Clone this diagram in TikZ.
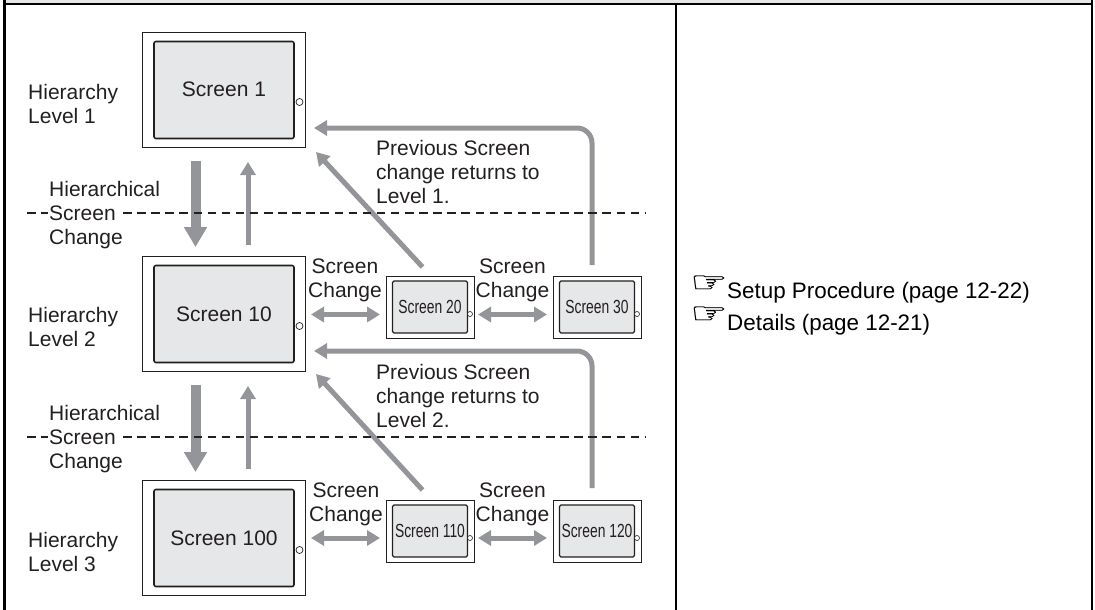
\documentclass[tikz,border=0pt]{standalone}
\usepackage{fontspec}
\setmainfont{Liberation Sans}
\newfontfamily\condfont[FakeStretch=0.73]{Liberation Sans}
\newfontfamily\handfont[FakeStretch=1.45,FakeBold=0.5]{DejaVu Sans}
\usetikzlibrary{positioning,arrows.meta}
\definecolor{screengray}{HTML}{E6E7E8}
\definecolor{arrowgray}{HTML}{939598}
\definecolor{inkgray}{HTML}{231F20}
\tikzset{
    bigscreen/.style={draw=inkgray, rectangle, line width=1.6pt, outer sep=0pt, inner sep=0pt, minimum width=163pt, minimum height=115pt},
    bigpanel/.style={draw=inkgray, fill=screengray, rectangle, rounded corners=2pt, line width=1.6pt, inner sep=0pt, minimum width=140pt, minimum height=97pt, text=inkgray, font=\fontsize{21}{24}\selectfont},
    bigled/.style={draw=inkgray, fill=white, circle, line width=0.7pt, inner sep=0pt, minimum size=7pt},
    smallscreen/.style={draw=inkgray, rectangle, line width=1pt, outer sep=0pt, inner sep=0pt, minimum width=88pt, minimum height=62pt},
    smallpanel/.style={draw=inkgray, fill=screengray, rectangle, rounded corners=1.5pt, line width=1.1pt, inner sep=0pt, minimum width=75pt, minimum height=52pt, text=inkgray, font=\condfont\fontsize{19}{22}\selectfont},
    smallled/.style={draw=inkgray, fill=white, circle, line width=0.6pt, inner sep=0pt, minimum size=5pt},
    caption/.style={text=inkgray, inner sep=0pt, align=left, font=\fontsize{21}{24}\selectfont},
    fatarrow/.style={draw=arrowgray, line width=10pt, -{Triangle[width=22pt,length=20pt]}},
    thinarrow/.style={draw=arrowgray, line width=5pt, -{Triangle[width=15pt,length=13pt]}},
    botharrow/.style={draw=arrowgray, line width=5pt, {Triangle[width=15pt,length=13pt]}-{Triangle[width=15pt,length=13pt]}},
    levelline/.style={draw=inkgray, line width=2pt, dash pattern=on 8.5pt off 5.6pt},
    frameline/.style={draw=black, line width=2.2pt}
}
\begin{document}
\begin{tikzpicture}[x=1pt, y=-1pt]
    \useasboundingbox (0,0) rectangle (1095,610);

    % table frame
    \fill[screengray] (5,0) rectangle (1091,3.5);
    \coordinate (frameNW) at (4.4,0);
    \coordinate (frameSW) at (4.4,610);
    \coordinate (frameNE) at (1092,0);
    \coordinate (frameSE) at (1092,610);
    \coordinate (frameDN) at (676,4);
    \coordinate (frameDS) at (676,610);
    \draw[frameline] (frameNW) -- (frameSW);
    \draw[frameline] (frameNE) -- (frameSE);
    \draw[frameline] (frameDN) -- (frameDS);
    \draw[frameline] (4.4,4.2) -- (1092,4.2);

    % left column screens
    \node [bigscreen] (Scr1) at (224,90) {};
    \node [bigscreen, below=109pt of Scr1] (Scr10) {};
    \node [bigscreen, below=109pt of Scr10] (Scr100) {};
    \node [bigpanel] (Panel1) at (Scr1.center) {\raisebox{1.5pt}{Screen 1}};
    \node [bigpanel] (Panel10) at (Scr10.center) {Screen 10};
    \node [bigpanel] (Panel100) at (Scr100.center) {Screen 100};
    \node [bigled] (Led1) at ([shift={(75.5pt,-12pt)}]Scr1.center) {};
    \node [bigled] (Led10) at ([shift={(75.5pt,-12pt)}]Scr10.center) {};
    \node [bigled] (Led100) at ([shift={(75.5pt,-12pt)}]Scr100.center) {};

    % small screens
    \node [smallscreen, right=80.5pt of Scr10, yshift=7pt] (Scr20) {};
    \node [smallscreen, right=79pt of Scr20] (Scr30) {};
    \node [smallscreen, right=80.5pt of Scr100, yshift=7pt] (Scr110) {};
    \node [smallscreen, right=79pt of Scr110] (Scr120) {};
    \node [smallpanel] (Panel20) at (Scr20.center) {Screen 20};
    \node [smallpanel] (Panel30) at (Scr30.center) {Screen 30};
    \node [smallpanel] (Panel110) at (Scr110.center) {Screen 110};
    \node [smallpanel] (Panel120) at (Scr120.center) {Screen 120};
    \node [smallled] (Led20) at ([shift={(40pt,-7pt)}]Scr20.center) {};
    \node [smallled] (Led30) at ([shift={(40pt,-7pt)}]Scr30.center) {};
    \node [smallled] (Led110) at ([shift={(40pt,-7pt)}]Scr110.center) {};
    \node [smallled] (Led120) at ([shift={(40pt,-7pt)}]Scr120.center) {};

    % vertical changes
    \draw[fatarrow] ([shift={(-28.5pt,-13.5pt)}]Scr1.south) -- ([shift={(-28.5pt,9.5pt)}]Scr10.north);
    \draw[thinarrow] ([shift={(24pt,11.5pt)}]Scr10.north) -- ([shift={(24pt,-14.5pt)}]Scr1.south);
    \draw[fatarrow] ([shift={(-28.5pt,-13.5pt)}]Scr10.south) -- ([shift={(-28.5pt,8.5pt)}]Scr100.north);
    \draw[thinarrow] ([shift={(24pt,11.5pt)}]Scr100.north) -- ([shift={(24pt,-14.5pt)}]Scr10.south);

    % previous screen returns
    \draw[thinarrow] ([shift={(-7.5pt,9pt)}]Scr20.north) -- ([shift={(10.5pt,-4.5pt)}]Scr1.south east);
    \draw[thinarrow] ([shift={(-7.5pt,10pt)}]Scr110.north) -- ([shift={(10.5pt,-2.5pt)}]Scr10.south east);
    \draw[thinarrow, rounded corners=15pt] ([shift={(-5pt,11pt)}]Scr30.north) |- ([shift={(8.5pt,-38pt)}]Scr1.east);
    \draw[thinarrow, rounded corners=15pt] ([shift={(-5pt,12pt)}]Scr120.north) |- ([shift={(8.5pt,-37pt)}]Scr10.east);

    % sideways changes
    \draw[botharrow] ([shift={(5.5pt,-0.5pt)}]Scr10.east) -- ([shift={(-6pt,-7.5pt)}]Scr20.west);
    \draw[botharrow] ([shift={(4pt,-7.5pt)}]Scr20.east) -- ([shift={(-6pt,-7.5pt)}]Scr30.west);
    \draw[botharrow] ([shift={(5.5pt,0pt)}]Scr100.east) -- ([shift={(-6pt,-7pt)}]Scr110.west);
    \draw[botharrow] ([shift={(4pt,-7pt)}]Scr110.east) -- ([shift={(-6pt,-7pt)}]Scr120.west);

    % level boundaries
    \coordinate (LineA) at (27,213);
    \coordinate (LineB) at (48,213);
    \coordinate (LineC) at (123,213);
    \coordinate (LineD) at (645,213);
    \coordinate (LineE) at (27,437);
    \coordinate (LineF) at (48,437);
    \coordinate (LineG) at (123,437);
    \coordinate (LineH) at (645,437);
    \draw[levelline] (LineA) -- (LineB);
    \draw[levelline] (LineC) -- (LineD);
    \draw[levelline] (LineE) -- (LineF);
    \draw[levelline] (LineG) -- (LineH);

    % captions
    \node [caption, anchor=base west] (Level1) at (28,123) {Hierarchy\\Level 1};
    \node [caption, anchor=base west] (Level2) at (28,346) {Hierarchy\\Level 2};
    \node [caption, anchor=base west] (Level3) at (28,571) {Hierarchy\\Level 3};
    \node [caption, anchor=base west] (HierA) at (49,244) {Hierarchical\\Screen\\Change};
    \node [caption, anchor=base west] (HierB) at (49,468) {Hierarchical\\Screen\\Change};
    \node [caption, anchor=base west] (PrevA) at (376,203) {Previous Screen\\change returns to\\Level 1.};
    \node [caption, anchor=base west] (PrevB) at (376,427) {Previous Screen\\change returns to\\Level 2.};
    \node [caption, align=center, anchor=base] (ChangeA) at (345,297) {Screen\\Change};
    \node [caption, align=center, anchor=base] (ChangeB) at (512.5,297) {Screen\\Change};
    \node [caption, align=center, anchor=base] (ChangeC) at (346,521) {Screen\\Change};
    \node [caption, align=center, anchor=base] (ChangeD) at (512.5,521) {Screen\\Change};

    % right column
    \node [inner sep=0pt, anchor=base west, font=\handfont\fontsize{29}{29}\selectfont] (HandA) at (690,292) {☞};
    \node [inner sep=0pt, anchor=base west, font=\handfont\fontsize{29}{29}\selectfont] (HandB) at (690,323) {☞};
    \node [inner sep=0pt, anchor=base west, font=\fontsize{22.4}{24}\selectfont] (Setup) at (727,298) {Setup Procedure (page 12-22)};
    \node [inner sep=0pt, anchor=base west, font=\fontsize{22.4}{24}\selectfont] (Details) at (727,330) {Details (page 12-21)};
\end{tikzpicture}
\end{document}
